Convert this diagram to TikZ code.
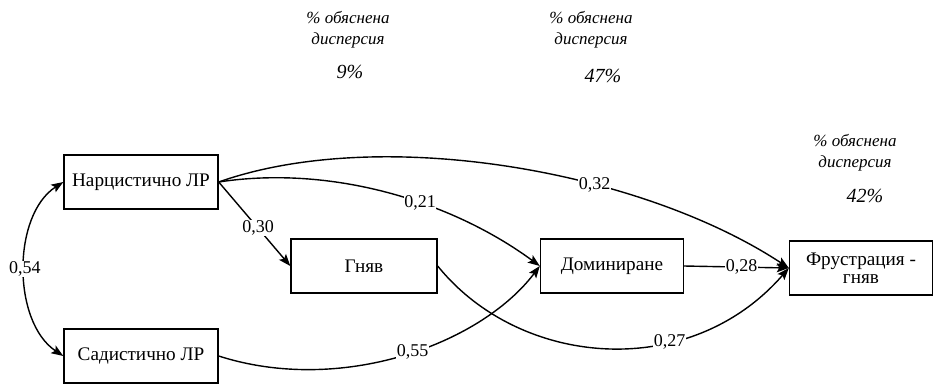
\documentclass[tikz,border=0pt]{standalone}
\usepackage{fontspec}
\setmainfont{Liberation Serif}
\usetikzlibrary{arrows.meta}

\begin{document}
\begin{tikzpicture}[x=1pt,y=-1pt]
% Estilos
\tikzstyle{box} = [rectangle, draw, line width=1.4pt, minimum height=54pt, text centered, align=center, font=\fontsize{19.2}{18.5}\selectfont]
\tikzstyle{path} = [line width=1.4pt, -{Stealth[length=12pt,width=9pt,inset=2.5pt]}]
\tikzstyle{coef} = [fill=white, inner sep=0.5pt, font=\fontsize{18}{20}\selectfont]
\tikzstyle{expl} = [align=center, font=\itshape\fontsize{17}{21}\selectfont]
\tikzstyle{pct} = [font=\itshape\fontsize{20}{22}\selectfont]

\useasboundingbox (0,0) rectangle (934,384);

% Variables
\node[box, minimum width=154pt] (nar) at (141,182) {Нарцистично ЛР};
\node[box, minimum width=154pt] (sad) at (141,356) {Садистично ЛР};
\node[box, minimum width=146pt] (gnyav) at (364,266) {Гняв};
\node[box, minimum width=143pt] (dom) at (612,266) {Доминиране};
\node[box, minimum width=143pt] (fru) at (861,268) {Фрустрация -\\гняв};

% Корелация
\draw[line width=1.4pt, {Stealth[length=12pt,width=9pt,inset=2.5pt]}-{Stealth[length=12pt,width=9pt,inset=2.5pt]}]
  (nar.west) .. controls (12,215) and (12,322) .. node[coef, pos=0.5] {0,54} (sad.west);

% Пътища
\draw[path] (nar.east) -- node[coef, pos=0.55] {0,30} (gnyav.west);
\draw[path] (nar.east) .. controls (330,165) and (450,200) .. node[coef, pos=0.6] {0,21} (dom.west);
\draw[path] (nar.east) .. controls (380,125) and (640,170) .. node[coef, pos=0.64] {0,32} (fru.west);
\draw[path] (sad.east) .. controls (340,395) and (480,345) .. node[coef, pos=0.53] {0,55} (dom.west);
\draw[path] (gnyav.east) .. controls (520,368) and (690,382) .. node[coef, pos=0.66] {0,27} (fru.west);
\draw[path] (dom.east) -- node[coef, pos=0.55] {0,28} (fru.west);

% Обяснена дисперсия
\node[expl] (expl1) at (348,30) {\% обяснена\\дисперсия};
\node[pct] (pct1) at (350,72) {9\%};
\node[expl] (expl2) at (591,30) {\% обяснена\\дисперсия};
\node[pct] (pct2) at (603,76) {47\%};
\node[expl] (expl3) at (855,153) {\% обяснена\\дисперсия};
\node[pct] (pct3) at (865,196) {42\%};
\end{tikzpicture}
\end{document}
